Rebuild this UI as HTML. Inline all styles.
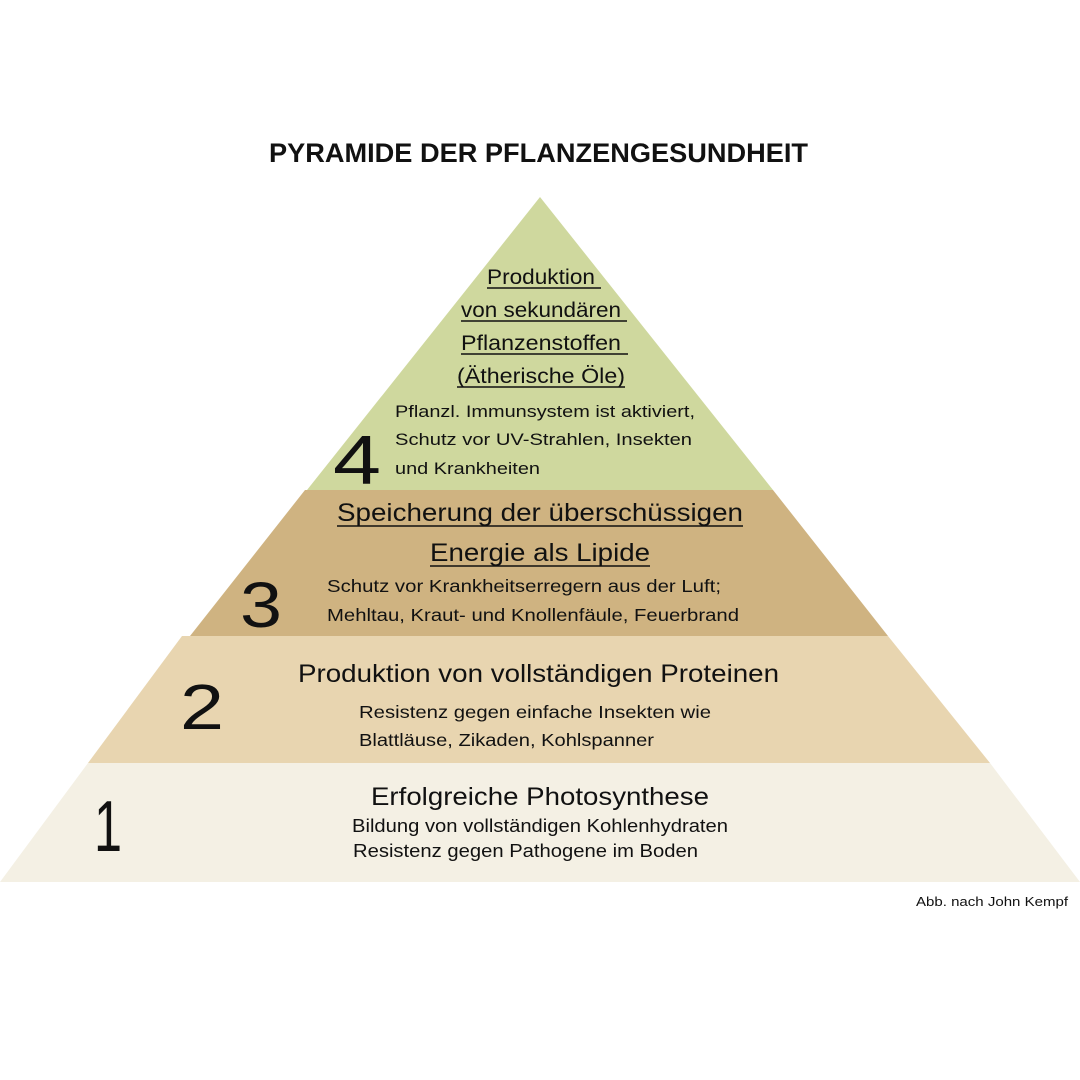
<!DOCTYPE html>
<html><head><meta charset="utf-8"><style>
html,body{margin:0;padding:0;background:#fff}
svg{display:block}
text{font-family:"Liberation Sans",sans-serif;fill:#111}
</style></head><body>
<svg width="1080" height="1080" viewBox="0 0 1080 1080" xmlns="http://www.w3.org/2000/svg">
<rect width="1080" height="1080" fill="#fff"/>
<polygon points="88,763 990,763 1080,882 0,882" fill="#f4f0e4"/>
<polygon points="182,636 888,636 990,763 88,763" fill="#e8d5b0"/>
<polygon points="305,490 773,490 888,636 190,636" fill="#cfb381"/>
<polygon points="540,197 773,490 307,490" fill="#cfd89e"/>

<text x="269" y="162" font-size="27" font-weight="bold" textLength="539" lengthAdjust="spacingAndGlyphs">PYRAMIDE DER PFLANZENGESUNDHEIT</text>

<g font-size="21">
<text x="487" y="284" textLength="108" lengthAdjust="spacingAndGlyphs">Produktion</text>
<text x="461" y="317" textLength="160" lengthAdjust="spacingAndGlyphs">von sekundären</text>
<text x="461" y="350" textLength="160" lengthAdjust="spacingAndGlyphs">Pflanzenstoffen</text>
<text x="457" y="383" textLength="168" lengthAdjust="spacingAndGlyphs">(Ätherische Öle)</text>
</g>
<g stroke="#111" stroke-width="1.5">
<line x1="487" y1="288" x2="601" y2="288"/>
<line x1="461" y1="321" x2="627" y2="321"/>
<line x1="461" y1="354" x2="628" y2="354"/>
<line x1="457" y1="387" x2="625" y2="387"/>
</g>
<g font-size="17">
<text x="395" y="417" textLength="300" lengthAdjust="spacingAndGlyphs">Pflanzl. Immunsystem ist aktiviert,</text>
<text x="395" y="445" textLength="297" lengthAdjust="spacingAndGlyphs">Schutz vor UV-Strahlen, Insekten</text>
<text x="395" y="474" textLength="145" lengthAdjust="spacingAndGlyphs">und Krankheiten</text>
</g>
<text x="333" y="484" font-size="70" textLength="48" lengthAdjust="spacingAndGlyphs">4</text>

<g font-size="25">
<text x="337" y="521" textLength="406" lengthAdjust="spacingAndGlyphs">Speicherung der überschüssigen</text>
<text x="430" y="561" textLength="220" lengthAdjust="spacingAndGlyphs">Energie als Lipide</text>
</g>
<g stroke="#111" stroke-width="1.6">
<line x1="337" y1="526" x2="743" y2="526"/>
<line x1="430" y1="566" x2="650" y2="566"/>
</g>
<g font-size="17.5">
<text x="327" y="592" textLength="394" lengthAdjust="spacingAndGlyphs">Schutz vor Krankheitserregern aus der Luft;</text>
<text x="327" y="621" textLength="412" lengthAdjust="spacingAndGlyphs">Mehltau, Kraut- und Knollenfäule, Feuerbrand</text>
</g>
<text x="240" y="627" font-size="64" textLength="42" lengthAdjust="spacingAndGlyphs">3</text>

<text x="298" y="682" font-size="25" textLength="481" lengthAdjust="spacingAndGlyphs">Produktion von vollständigen Proteinen</text>
<g font-size="17.5">
<text x="359" y="718" textLength="352" lengthAdjust="spacingAndGlyphs">Resistenz gegen einfache Insekten wie</text>
<text x="359" y="746" textLength="295" lengthAdjust="spacingAndGlyphs">Blattläuse, Zikaden, Kohlspanner</text>
</g>
<text x="180" y="729" font-size="64" textLength="44" lengthAdjust="spacingAndGlyphs">2</text>

<text x="371" y="805" font-size="25" textLength="338" lengthAdjust="spacingAndGlyphs">Erfolgreiche Photosynthese</text>
<g font-size="18">
<text x="352" y="832" textLength="376" lengthAdjust="spacingAndGlyphs">Bildung von vollständigen Kohlenhydraten</text>
<text x="353" y="857" textLength="345" lengthAdjust="spacingAndGlyphs">Resistenz gegen Pathogene im Boden</text>
</g>
<text x="94" y="851" font-size="72" textLength="28" lengthAdjust="spacingAndGlyphs">1</text>

<text x="916" y="906" font-size="13" textLength="152" lengthAdjust="spacingAndGlyphs">Abb. nach John Kempf</text>
</svg>
</body></html>
